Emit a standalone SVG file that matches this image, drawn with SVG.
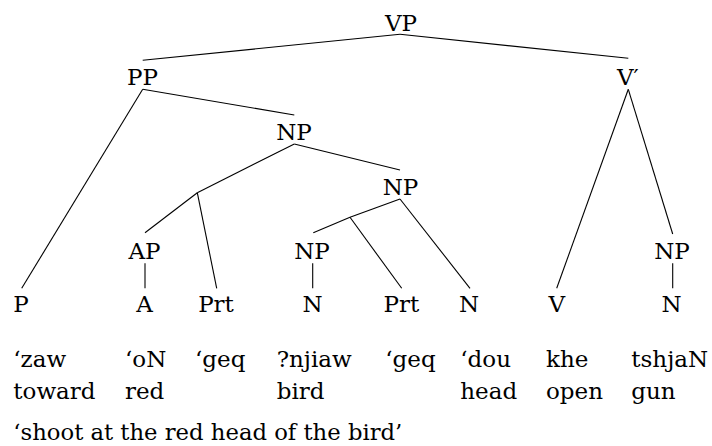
<svg xmlns="http://www.w3.org/2000/svg" width="712" height="446" viewBox="0 0 712 446">
<style>
.c{text-anchor:middle}
.e line{stroke:#000;stroke-width:1.1;fill:none}
</style>
<rect width="712" height="446" fill="#fff"/>
<g id="connectors" class="e">
<line x1="400" y1="34.3" x2="142.7" y2="60.3"/>
<line x1="400" y1="34.3" x2="628.3" y2="58.3"/>
<line x1="142.7" y1="89.3" x2="21.7" y2="288.3"/>
<line x1="142.7" y1="89.3" x2="294.3" y2="115"/>
<line x1="628.3" y1="89.3" x2="556.7" y2="288.3"/>
<line x1="628.3" y1="89.3" x2="672.7" y2="234"/>
<line x1="294.3" y1="144" x2="197.3" y2="192.7"/>
<line x1="294.3" y1="144" x2="400" y2="170"/>
<line x1="197.3" y1="192.7" x2="145" y2="232.7"/>
<line x1="197.3" y1="192.7" x2="216.7" y2="288.3"/>
<line x1="400" y1="199" x2="350" y2="217.3"/>
<line x1="400" y1="199" x2="470" y2="288.3"/>
<line x1="350" y1="217.3" x2="313.3" y2="232.7"/>
<line x1="350" y1="217.3" x2="401.7" y2="288.3"/>
<line x1="145" y1="263.3" x2="145" y2="288.3"/>
<line x1="312.7" y1="263.3" x2="312.7" y2="288.3"/>
<line x1="672.7" y1="263.3" x2="672.7" y2="288.3"/>
</g>
<g font-family="DejaVu Serif, serif" font-size="23" fill="#000">
<g id="n-VP"><text class="c" x="401" y="31">VP</text></g>
<g id="n-PP"><text class="c" x="142.5" y="85">PP</text></g>
<g id="n-Vbar"><text x="617" y="85">V′</text></g>
<g id="n-NP1"><text class="c" x="294" y="139.5">NP</text></g>
<g id="n-NP2"><text class="c" x="400.5" y="195">NP</text></g>
<g id="n-AP"><text class="c" x="144.5" y="258.5">AP</text></g>
<g id="n-NP3"><text class="c" x="312" y="258.5">NP</text></g>
<g id="n-NP4"><text class="c" x="672" y="258.5">NP</text></g>
<g id="n-P"><text class="c" x="21" y="312">P</text></g>
<g id="n-A"><text class="c" x="144.5" y="312">A</text></g>
<g id="n-Prt1"><text class="c" x="216" y="312">Prt</text></g>
<g id="n-N1"><text class="c" x="312.5" y="312">N</text></g>
<g id="n-Prt2"><text class="c" x="401.3" y="312">Prt</text></g>
<g id="n-N2"><text class="c" x="469" y="312">N</text></g>
<g id="n-V"><text class="c" x="556.7" y="312">V</text></g>
<g id="n-N3"><text class="c" x="671.5" y="312">N</text></g>
<g id="gloss">
<text x="13.3" y="367">‘zaw</text>
<text x="125" y="367">‘oN</text>
<text x="195" y="367">‘geq</text>
<text x="276.7" y="367">?njiaw</text>
<text x="385.3" y="367">‘geq</text>
<text x="460.3" y="367">‘dou</text>
<text x="546" y="367">khe</text>
<text x="631.3" y="367">tshjaN</text>
<text x="13.3" y="398.5">toward</text>
<text x="125" y="398.5">red</text>
<text x="276.7" y="398.5">bird</text>
<text x="460.3" y="398.5">head</text>
<text x="546" y="398.5">open</text>
<text x="631.3" y="398.5">gun</text>
<text x="13.3" y="440" textLength="389" lengthAdjust="spacingAndGlyphs">‘shoot at the red head of the bird’</text>
</g>
</g>
</svg>
